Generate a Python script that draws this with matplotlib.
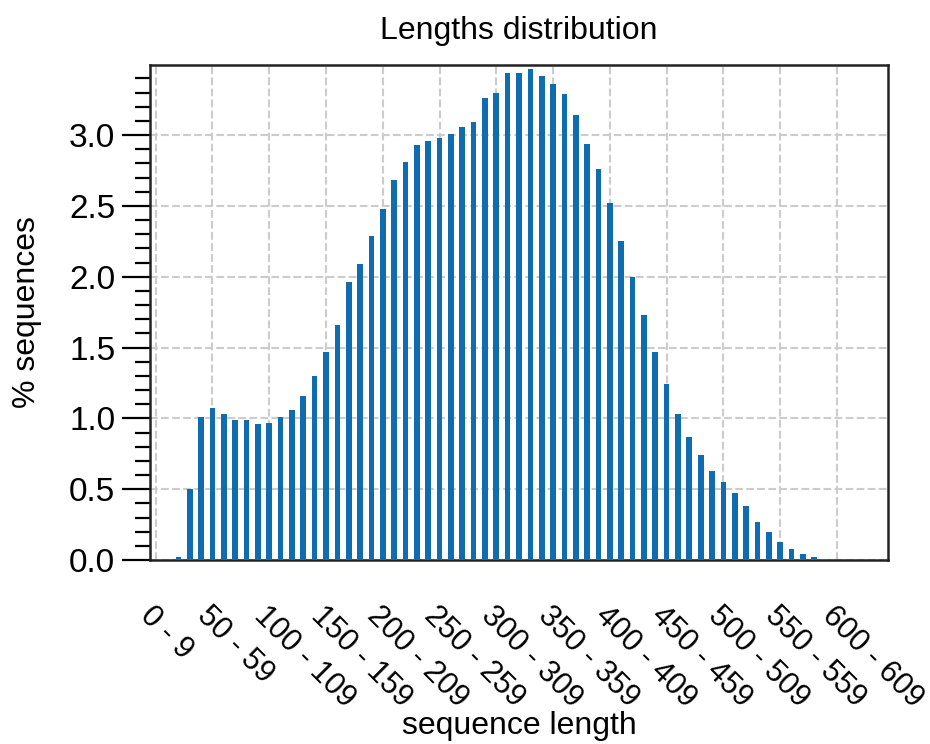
import numpy as np
import matplotlib
matplotlib.use("Agg")
import matplotlib.pyplot as plt
from matplotlib.ticker import MultipleLocator

plt.rcParams['font.family'] = ['Liberation Sans', 'DejaVu Sans']

# bins of 10, from 0-9 up to 640-649
bin_starts = list(range(0, 650, 10))
bin_labels = [f"{s} - {s + 9}" for s in bin_starts]

# percentage of sequences per bin
pct = [0.0, 0.0, 0.02, 0.50, 1.01, 1.07, 1.03, 0.99, 0.99, 0.96,
       0.97, 1.01, 1.06, 1.16, 1.30, 1.47, 1.66, 1.96, 2.09, 2.29,
       2.48, 2.68, 2.81, 2.93, 2.96, 2.98, 3.01, 3.06, 3.09, 3.26,
       3.30, 3.44, 3.44, 3.47, 3.42, 3.36, 3.29, 3.14, 2.94, 2.76,
       2.52, 2.25, 2.00, 1.73, 1.47, 1.24, 1.03, 0.87, 0.74, 0.63,
       0.55, 0.47, 0.38, 0.27, 0.20, 0.13, 0.075, 0.04, 0.018, 0.006,
       0.003, 0.001, 0.0, 0.0, 0.0]

bar_color = '#0f6cae'

fig = plt.figure(figsize=(9.3, 7.44), dpi=100)
ax = fig.add_axes([150 / 930, 1 - 560 / 744, 738 / 930, 495 / 744])

x = np.arange(len(pct))
ax.bar(x, pct, width=0.5, color=bar_color, zorder=3)

ax.set_xlim(-0.5, len(pct) - 0.5)
ax.set_ylim(0, 3.495)

ax.set_xticks(x[::5])
ax.set_xticklabels(bin_labels[::5], rotation=-45, ha='left', va='top',
                   rotation_mode='anchor')
ax.yaxis.set_major_locator(MultipleLocator(0.5))
ax.yaxis.set_minor_locator(MultipleLocator(0.1))

ax.tick_params(axis='x', length=0, pad=29, labelsize=22)
ax.tick_params(axis='y', which='major', length=20, width=1.6, labelsize=24, pad=5)
ax.tick_params(axis='y', which='minor', length=11, width=1.6)

ax.grid(True, which='major', linestyle='--', color='#cccccc', linewidth=1.5, zorder=0)
for sp in ax.spines.values():
    sp.set_linewidth(1.8)
    sp.set_color('#222222')

ax.set_title("Lengths distribution", fontsize=23, pad=19)
ax.set_xlabel("sequence length", fontsize=23)
ax.set_ylabel("% sequences", fontsize=23)
ax.xaxis.set_label_coords(0.5, -0.305)
ax.yaxis.set_label_coords(-0.146, 0.5)

fig.savefig("out.png", dpi=100)
